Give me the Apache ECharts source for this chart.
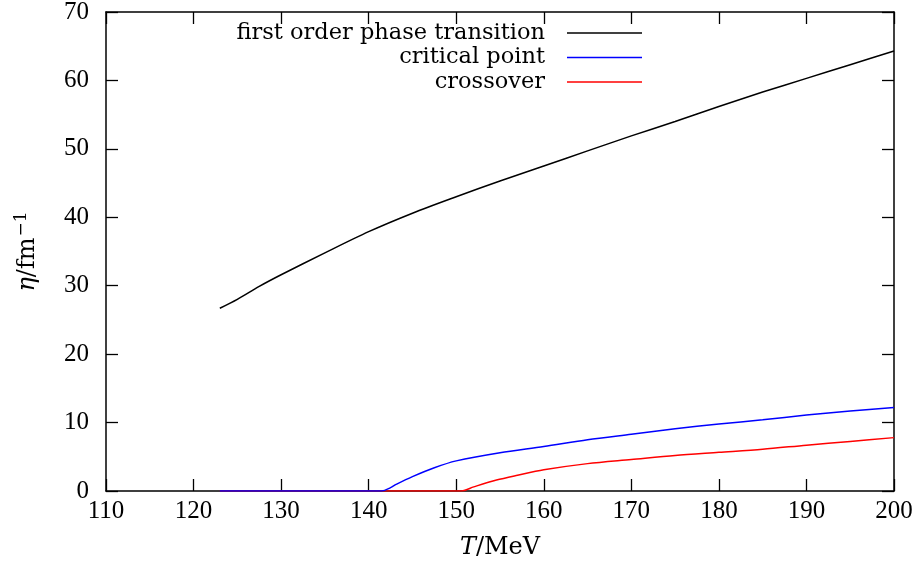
<!DOCTYPE html>
<html>
<head>
<meta charset="utf-8">
<script src="https://cdn.jsdelivr.net/npm/echarts@6/dist/echarts.min.js"></script>
<style>html,body{margin:0;padding:0;background:#fff}#c{width:924px;height:570px}</style>
</head>
<body>
<div id="c"></div>
<script>
const seriesNames = ['first order phase transition', 'critical point', 'crossover'];
const xTicks = [110, 120, 130, 140, 150, 160, 170, 180, 190, 200];
const yTicks = [0, 10, 20, 30, 40, 50, 60, 70];

const firstOrderT   = [123, 125, 127.5, 130, 135, 140, 145, 150, 155, 160, 165, 170, 175, 180, 185, 190, 195, 200];
const firstOrderEta = [26.7, 28.0, 29.9, 31.6, 34.8, 37.9, 40.6, 43.0, 45.3, 47.5, 49.7, 51.9, 54.0, 56.2, 58.3, 60.3, 62.3, 64.3];

const criticalT   = [123, 141.5, 142.5, 143.2, 145, 147.5, 150, 155, 160, 165, 170, 175, 180, 185, 190, 195, 200];
const criticalEta = [0, 0, 0.5, 1.0, 2.1, 3.4, 4.4, 5.6, 6.5, 7.5, 8.3, 9.1, 9.8, 10.4, 11.1, 11.7, 12.2];

const crossoverT   = [123, 150.6, 152, 154.6, 157, 160, 165, 170, 175, 180, 185, 190, 195, 200];
const crossoverEta = [0, 0, 0.6, 1.6, 2.3, 3.1, 4.0, 4.6, 5.2, 5.65, 6.1, 6.7, 7.25, 7.8];

const zip = (a, b) => a.map((v, i) => [v, b[i]]);
const NUMFONT = 'Liberation Serif';
const TXTFONT = 'DejaVu Serif';
const FS = 25;

const chart = echarts.init(document.getElementById('c'));
const axisLine = { show: true, onZero: false, lineStyle: { color: '#000', width: 1.5 } };
const tick = { show: true, inside: true, length: 12, lineStyle: { color: '#000', width: 1.3 } };
chart.setOption({
  animation: false,
  backgroundColor: '#fff',
  grid: { left: 106, right: 30, top: 12, bottom: 79, outerBoundsMode: 'none', containLabel: false },
  legend: {
    orient: 'vertical', align: 'right', right: 282, top: 21.5, padding: 0,
    itemWidth: 75, itemHeight: 14, itemGap: 1.5,
    icon: 'path://M0,6.3L75,6.3L75,7.7L0,7.7Z',
    textStyle: { fontFamily: TXTFONT, fontSize: 22.5, color: '#000', padding: [0, 17, 0, 0] },
    data: seriesNames
  },
  xAxis: [{
    type: 'value', min: 110, max: 200, interval: 10, position: 'bottom',
    axisLine, axisTick: tick, splitLine: { show: false },
    axisLabel: { fontFamily: NUMFONT, fontSize: FS, color: '#000', margin: 8 },
    name: '{i|T}{r|/MeV}', nameLocation: 'middle', nameGap: 45,
    nameTextStyle: { rich: {
      i: { fontFamily: TXTFONT, fontSize: 24, fontStyle: 'italic', color: '#000' },
      r: { fontFamily: TXTFONT, fontSize: 24, color: '#000' } } }
  }, {
    type: 'value', min: 110, max: 200, interval: 10, position: 'top',
    axisLine, axisTick: tick, splitLine: { show: false }, axisLabel: { show: false }
  }],
  yAxis: [{
    type: 'value', min: 0, max: 70, interval: 10, position: 'left',
    axisLine, axisTick: tick, splitLine: { show: false },
    axisLabel: { fontFamily: NUMFONT, fontSize: FS, color: '#000', margin: 17 },
    name: '{i|η}{r|/fm}{s|−1}', nameLocation: 'middle', nameGap: 64, nameRotate: 90,
    nameTextStyle: { rich: {
      i: { fontFamily: TXTFONT, fontSize: 24, fontStyle: 'italic', color: '#000' },
      r: { fontFamily: TXTFONT, fontSize: 24, color: '#000' },
      s: { fontFamily: TXTFONT, fontSize: 17, color: '#000', padding: [0, 0, 12, 1] } } }
  }, {
    type: 'value', min: 0, max: 70, interval: 10, position: 'right',
    axisLine, axisTick: tick, splitLine: { show: false }, axisLabel: { show: false }
  }],
  series: [
    { name: seriesNames[0], type: 'line', symbol: 'none', z: 3, color: '#000000', smooth: 0.3,
      lineStyle: { width: 1.5, color: '#000000' }, data: zip(firstOrderT, firstOrderEta) },
    { name: seriesNames[1], type: 'line', symbol: 'none', z: 5, color: '#0000ff', smooth: 0.3,
      lineStyle: { width: 1.5, color: '#0000ff' }, data: zip(criticalT, criticalEta) },
    { name: seriesNames[2], type: 'line', symbol: 'none', z: 4, color: '#ff0000', smooth: 0.3,
      lineStyle: { width: 1.5, color: '#ff0000' }, data: zip(crossoverT, crossoverEta) }
  ]
});
</script>
</body>
</html>
